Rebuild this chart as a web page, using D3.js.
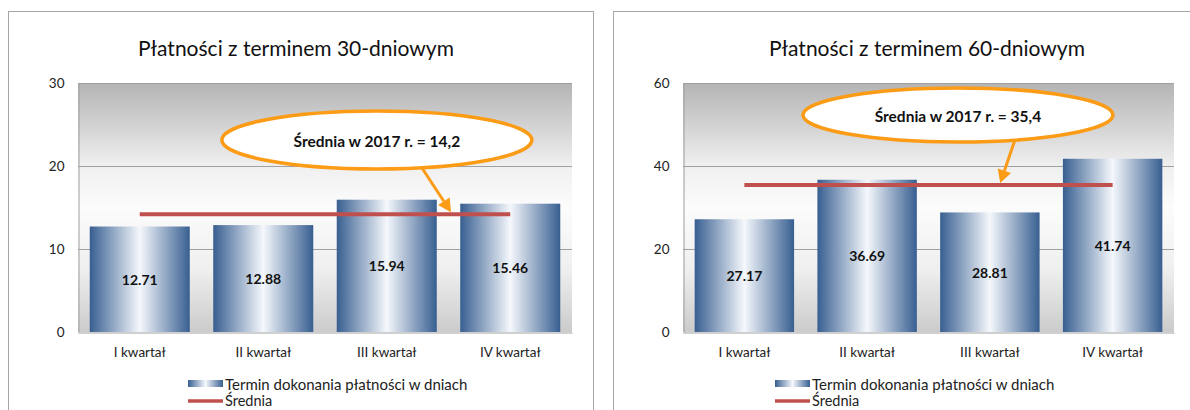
<!DOCTYPE html>
<html>
<head>
<meta charset="utf-8">
<script src="https://cdn.jsdelivr.net/npm/d3@7"></script>
<style>
  body { margin: 0; background: #fff; }
  svg { display: block; font-family: Lato, "Liberation Sans", sans-serif; }
</style>
</head>
<body>
<svg id="chart" width="1190" height="410"></svg>
<script>
// data
var categories = ["I kwartał", "II kwartał", "III kwartał", "IV kwartał"];
var values30 = [12.71, 12.88, 15.94, 15.46];
var values60 = [27.17, 36.69, 28.81, 41.74];
var avg30 = 14.2;
var avg60 = 35.4;
var ticks30 = [0, 10, 20, 30];
var ticks60 = [0, 20, 40, 60];
var titles = ["Płatności z terminem 30-dniowym", "Płatności z terminem 60-dniowym"];
var legendLabels = ["Termin dokonania płatności w dniach", "Średnia"];

// layout of the two panels
var panels = [
  { frame: [8.5, 11.5, 585, 420], plot: [78, 83, 572, 332], titleX: 296,
    values: values30, avg: avg30, ticks: ticks30, title: titles[0],
    legendX: 188, legendY: 383.5,
    bubble: { cx: 0.605, cy: 140, rx: 155, ry: 29, fromX: 0.696, tipX: 0.755 } },
  { frame: [613.5, 11.5, 600, 420], plot: [683, 83, 1174, 332], titleX: 927,
    values: values60, avg: avg60, ticks: ticks60, title: titles[1],
    legendX: 775, legendY: 383.5,
    bubble: { cx: 0.56, cy: 115, rx: 155, ry: 27, fromX: 0.676, tipX: 0.646 } }
];

var svg = d3.select("#chart");
var defs = svg.append("defs");

var bg = defs.append("linearGradient").attr("id", "plotBg")
  .attr("x1", 0).attr("y1", 0).attr("x2", 0).attr("y2", 1);
[[0, "#b4b4b4"], [0.33, "#efefef"], [0.5, "#fcfcfc"], [0.75, "#efefef"], [1, "#cbcbcb"]]
  .forEach(function(s) { bg.append("stop").attr("offset", s[0]).attr("stop-color", s[1]); });

var barGrad = defs.append("linearGradient").attr("id", "barGrad")
  .attr("x1", 0).attr("y1", 0).attr("x2", 1).attr("y2", 0);
[[0, "#385f91"], [0.5, "#f5f8fc"], [1, "#385f91"]]
  .forEach(function(s) { barGrad.append("stop").attr("offset", s[0]).attr("stop-color", s[1]); });

var fmtComma = function(v) { return String(v).replace(".", ","); };

panels.forEach(function(p) {
  var g = svg.append("g");

  g.append("rect")
    .attr("x", p.frame[0]).attr("y", p.frame[1])
    .attr("width", p.frame[2]).attr("height", p.frame[3])
    .attr("fill", "#fff").attr("stroke", "#a6a6a6");

  g.append("text")
    .attr("x", p.titleX).attr("y", 47)
    .attr("text-anchor", "middle").attr("dominant-baseline", "central")
    .attr("font-size", 21).attr("fill", "#111")
    .text(p.title);

  var x = d3.scaleBand()
    .domain(categories)
    .range([p.plot[0], p.plot[2]])
    .paddingInner(0.19).paddingOuter(0.095);

  var y = d3.scaleLinear()
    .domain([p.ticks[0], p.ticks[p.ticks.length - 1]])
    .range([p.plot[3], p.plot[1]]);

  g.append("rect")
    .attr("x", p.plot[0]).attr("y", p.plot[1])
    .attr("width", p.plot[2] - p.plot[0]).attr("height", p.plot[3] - p.plot[1])
    .attr("fill", "url(#plotBg)");

  // gridlines
  g.selectAll(".grid").data(p.ticks.slice(1)).enter()
    .append("line")
    .attr("x1", p.plot[0]).attr("x2", p.plot[2])
    .attr("y1", function(d) { return Math.round(y(d)) + 0.5; })
    .attr("y2", function(d) { return Math.round(y(d)) + 0.5; })
    .attr("stroke", "#a0a0a0");

  // y axis
  var yAxis = g.append("g")
    .attr("transform", "translate(" + (p.plot[0] + 0.5) + ",0)")
    .call(d3.axisLeft(y).tickValues(p.ticks).tickSize(0).tickPadding(14));
  yAxis.select(".domain").attr("stroke", "#a0a0a0");
  yAxis.selectAll("text").attr("font-size", 13.5).attr("fill", "#222")
    .attr("font-family", "Lato, sans-serif");

  // bars
  g.selectAll(".bar").data(p.values).enter()
    .append("rect")
    .attr("x", function(d, i) { return x(categories[i]); })
    .attr("y", function(d) { return y(d); })
    .attr("width", x.bandwidth())
    .attr("height", function(d) { return y(0) - y(d); })
    .attr("fill", "url(#barGrad)");

  g.selectAll(".val").data(p.values).enter()
    .append("text")
    .attr("x", function(d, i) { return x(categories[i]) + x.bandwidth() / 2; })
    .attr("y", function(d) { return (y(d) + y(0)) / 2; })
    .attr("text-anchor", "middle").attr("dominant-baseline", "central")
    .attr("font-size", 14).attr("font-weight", "bold").attr("fill", "#111")
    .text(function(d) { return d.toFixed(2); });

  // x axis
  var xAxis = g.append("g")
    .attr("transform", "translate(0," + (p.plot[3] + 0.5) + ")")
    .call(d3.axisBottom(x).tickSize(0).tickPadding(15));
  xAxis.select(".domain").attr("stroke", "#a0a0a0");
  xAxis.selectAll("text").attr("font-size", 13.5).attr("fill", "#222")
    .attr("font-family", "Lato, sans-serif");

  // average line
  var xFirst = x(categories[0]) + x.bandwidth() / 2;
  var xLast = x(categories[categories.length - 1]) + x.bandwidth() / 2;
  g.append("line")
    .attr("x1", xFirst).attr("x2", xLast)
    .attr("y1", y(p.avg)).attr("y2", y(p.avg))
    .attr("stroke", "#c0504d").attr("stroke-width", 4);

  // callout bubble + arrow
  var w = p.plot[2] - p.plot[0];
  var b = p.bubble;
  var cx = p.plot[0] + w * b.cx;
  var fx = p.plot[0] + w * b.fromX;
  var fy = b.cy + b.ry * Math.sqrt(1 - Math.pow((fx - cx) / b.rx, 2));
  var tx = p.plot[0] + w * b.tipX;
  var ty = y(p.avg) - 2;
  var ang = Math.atan2(ty - fy, tx - fx);
  var hl = 13, hw = 7;
  var bx = tx - hl * Math.cos(ang), by = ty - hl * Math.sin(ang);

  g.append("line")
    .attr("x1", fx).attr("y1", fy).attr("x2", bx).attr("y2", by)
    .attr("stroke", "#fb9b16").attr("stroke-width", 3);
  g.append("path")
    .attr("d", "M" + tx + "," + ty +
      "L" + (bx + hw * Math.sin(ang)) + "," + (by - hw * Math.cos(ang)) +
      "L" + (bx - hw * Math.sin(ang)) + "," + (by + hw * Math.cos(ang)) + "Z")
    .attr("fill", "#fb9b16");

  g.append("ellipse")
    .attr("cx", cx).attr("cy", b.cy).attr("rx", b.rx).attr("ry", b.ry)
    .attr("fill", "#fff").attr("stroke", "#fb9b16").attr("stroke-width", 3.5);
  g.append("text")
    .attr("x", cx).attr("y", b.cy + 1)
    .attr("text-anchor", "middle").attr("dominant-baseline", "central")
    .attr("font-size", 15.5).attr("font-weight", "bold").attr("fill", "#111")
    .text("Średnia w 2017 r. = " + fmtComma(p.avg));

  // legend
  var lg = g.append("g").attr("transform", "translate(" + p.legendX + "," + p.legendY + ")");
  lg.append("rect").attr("x", 0).attr("y", -3.5).attr("width", 35).attr("height", 7)
    .attr("fill", "url(#barGrad)");
  lg.append("text").attr("x", 37).attr("y", 0).attr("dominant-baseline", "central")
    .attr("font-size", 15).attr("fill", "#222").text(legendLabels[0]);
  lg.append("line").attr("x1", 0).attr("x2", 35).attr("y1", 17.5).attr("y2", 17.5)
    .attr("stroke", "#c0504d").attr("stroke-width", 3.5);
  lg.append("text").attr("x", 37).attr("y", 17).attr("dominant-baseline", "central")
    .attr("font-size", 14.5).attr("fill", "#222").text(legendLabels[1]);
});
</script>
</body>
</html>
